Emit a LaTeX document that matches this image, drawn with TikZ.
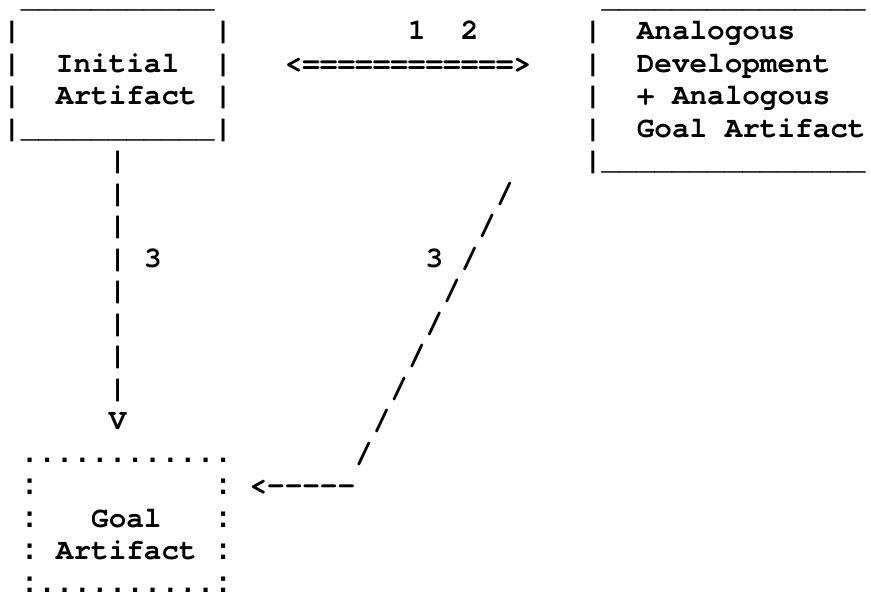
\documentclass[tikz,border=0pt]{standalone}
\usepackage{fontspec}
\newfontfamily\asciifont{texgyrecursor}[Extension=.otf, UprightFont=*-bold]
\newfontfamily\dotfont{Liberation Mono}[UprightFont=* Bold]
\tikzset{
  asc/.style={inner sep=0pt, outer sep=0pt, anchor=base west,
    font=\asciifont\fontsize{29.33pt}{32.5pt}\selectfont},
  dotted frame/.style={asc, font=\dotfont\fontsize{29.33pt}{32.5pt}\selectfont},
}
\begin{document}
\begin{tikzpicture}
\fill[white] (0,0) rectangle (871pt,-597pt);
\useasboundingbox (0,0) rectangle (871pt,-597pt);
% character grid: column c, text row k (base line)
\begin{scope}[x=17.6pt, y=-32.5pt, shift={(3.2pt,25.5pt)}]
  % initial artifact box
  \node[asc] (iTop)  at (1,1) {\_\_\_\_\_\_\_\_\_\_\_};
  \node[asc] (iL2)   at (0,2) {|};
  \node[asc] (iR2)   at (12,2) {|};
  \node[asc] (iL3)   at (0,3) {|};
  \node[asc] (iTxtA) at (3,3) {Initial};
  \node[asc] (iR3)   at (12,3) {|};
  \node[asc] (iL4)   at (0,4) {|};
  \node[asc] (iTxtB) at (3,4) {Artifact};
  \node[asc] (iR4)   at (12,4) {|};
  \node[asc] (iBot)  at (0,5) {|\_\_\_\_\_\_\_\_\_\_\_|};
  % steps 1 and 2
  \node[asc] (one)   at (23,2) {1};
  \node[asc] (two)   at (26,2) {2};
  \node[asc] (both)  at (16,3) {<============>};
  % analogous box
  \node[asc] (aTop)  at (34,1) {\_\_\_\_\_\_\_\_\_\_\_\_\_\_\_};
  \node[asc] (aL2)   at (33,2) {|};
  \node[asc] (aTxtA) at (36,2) {Analogous};
  \node[asc] (aL3)   at (33,3) {|};
  \node[asc] (aTxtB) at (36,3) {Development};
  \node[asc] (aL4)   at (33,4) {|};
  \node[asc] (aTxtC) at (36,4) {+ Analogous};
  \node[asc] (aL5)   at (33,5) {|};
  \node[asc] (aTxtD) at (36,5) {Goal Artifact};
  \node[asc] (aBot)  at (33,6) {|\_\_\_\_\_\_\_\_\_\_\_\_\_\_\_};
  % step 3, straight down
  \foreach \k in {6,...,13} {\node[asc] (down\k) at (6,\k) {|};}
  \node[asc] (threeL) at (8,9) {3};
  \node[asc] (vTip)   at (6,14) {V};
  % step 3, slanted
  \foreach \k in {7,...,15} {\node[asc] (slash\k) at ({35-\k},\k) {/};}
  \node[asc] (threeR) at (24,9) {3};
  \node[asc] (back)   at (14,16) {<-----};
  % goal artifact box
  \node[dotted frame] (gTop)  at (1,15) {............};
  \node[dotted frame] (gRowA) at (1,16) {:};
  \node[dotted frame] (gRowB) at (12,16) {:};
  \node[dotted frame] (gL17)  at (1,17) {:};
  \node[asc] (gTxtA) at (5,17) {Goal};
  \node[dotted frame] (gR17)  at (12,17) {:};
  \node[dotted frame] (gL18)  at (1,18) {:};
  \node[asc] (gTxtB) at (3,18) {Artifact};
  \node[dotted frame] (gR18)  at (12,18) {:};
  \node[dotted frame] (gBot)  at (1,19) {:..........:};
\end{scope}
\end{tikzpicture}
\end{document}
